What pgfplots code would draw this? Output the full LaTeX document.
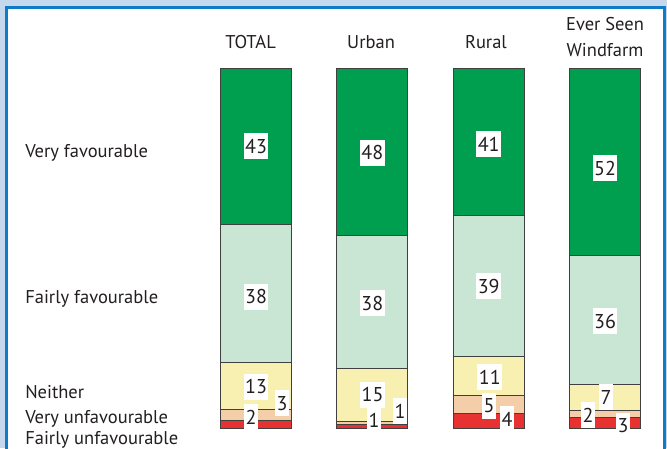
\documentclass[border=0pt]{standalone}
\usepackage{pgfplots}
\usepackage{pgfplotstable}
\pgfplotsset{compat=1.18}
\usepackage{fontspec}
\setmainfont{PT Sans}
\definecolor{outerblue}{HTML}{C5D9EE}
\definecolor{frameblue}{HTML}{0F7BC8}
\definecolor{dkgreen}{HTML}{009E4F}
\definecolor{ltgreen}{HTML}{C9E6D4}
\definecolor{ylw}{HTML}{F8F0B0}
\definecolor{peach}{HTML}{F4CEA8}
\definecolor{redone}{HTML}{E83232}
\definecolor{txt}{HTML}{231F20}
\pgfplotsset{base/.style={scale only axis, width=667pt, height=448pt,
  xmin=-2.2006, xmax=3.533, ymin=-5.556, ymax=118.89,
  axis lines=none, xtick=\empty, ytick=\empty, clip=false}}
\tikzset{lab/.style={text=txt, font=\fontsize{18.5}{20}\selectfont, inner sep=0pt}}
\pgfplotstableread{
x y label
0 78.3 43
0 36.4 38
0 11.4 13
0.224 6.9 3
-0.043 3.06 2
1 76.4 48
1 34.7 38
1.002 9.17 15
1.014 2.2 1
1.238 4.7 1
2 78.9 41
2 39.4 39
2.01 14.2 11
2.003 6.25 5
2.158 2.5 4
3 72.2 52
3 29.7 36
3.009 8.6 7
2.854 3.6 2
3.155 0.56 3
}\lbltable
\begin{document}
\begin{tikzpicture}
\useasboundingbox (0,0) rectangle (667pt,448pt);
\clip (0,0) rectangle (667pt,448pt);
\fill[outerblue] (0,0) rectangle (667pt,448pt);
\draw[frameblue, line width=3pt, fill=white] (6.3pt,-10pt) rectangle (664pt,440.7pt);
\begin{axis}[base, ybar stacked, bar width=71pt]
\addplot[fill=redone, draw=black!75, line width=0.8pt] coordinates {(0,2.02) (1,0.97) (2,4) (3,3)};
\addplot[fill=peach, draw=black!75, line width=0.8pt] coordinates {(0,3.03) (1,0.97) (2,5) (3,2)};
\addplot[fill=ylw, draw=black!75, line width=0.8pt] coordinates {(0,13.13) (1,14.56) (2,11) (3,7)};
\addplot[fill=ltgreen, draw=black!75, line width=0.8pt] coordinates {(0,38.38) (1,36.89) (2,39) (3,36)};
\addplot[fill=dkgreen, draw=black!75, line width=0.8pt] coordinates {(0,43.43) (1,46.60) (2,41) (3,52)};
\node[lab, anchor=base] at (axis cs:-0.047,105.3) {TOTAL};
\node[lab, anchor=base] at (axis cs:0.989,105.3) {Urban};
\node[lab, anchor=base] at (axis cs:1.977,105.3) {Rural};
\node[lab, anchor=base] at (axis cs:3.0,110.3) {Ever Seen};
\node[lab, anchor=base] at (axis cs:3.0,103.1) {Windfarm};
\node[lab, anchor=base west] at (axis cs:-1.985,75.1) {Very favourable};
\node[lab, anchor=base west] at (axis cs:-1.985,34.6) {Fairly favourable};
\node[lab, anchor=base west] at (axis cs:-1.985,8.3) {Neither};
\node[lab, anchor=base west] at (axis cs:-1.985,1.2) {Very unfavourable};
\node[lab, anchor=base west] at (axis cs:-1.985,-4.5) {Fairly unfavourable};
\end{axis}
\begin{axis}[base]
\addplot[draw=none, mark=none, point meta=explicit symbolic, nodes near coords,
  nodes near coords style={anchor=center, fill=white, text=txt,
    font=\fontsize{20}{20}\selectfont, inner xsep=1.5pt, inner ysep=0pt,
    minimum height=26pt}]
  table[x=x, y=y, meta=label] {\lbltable};
\end{axis}
\end{tikzpicture}
\end{document}
